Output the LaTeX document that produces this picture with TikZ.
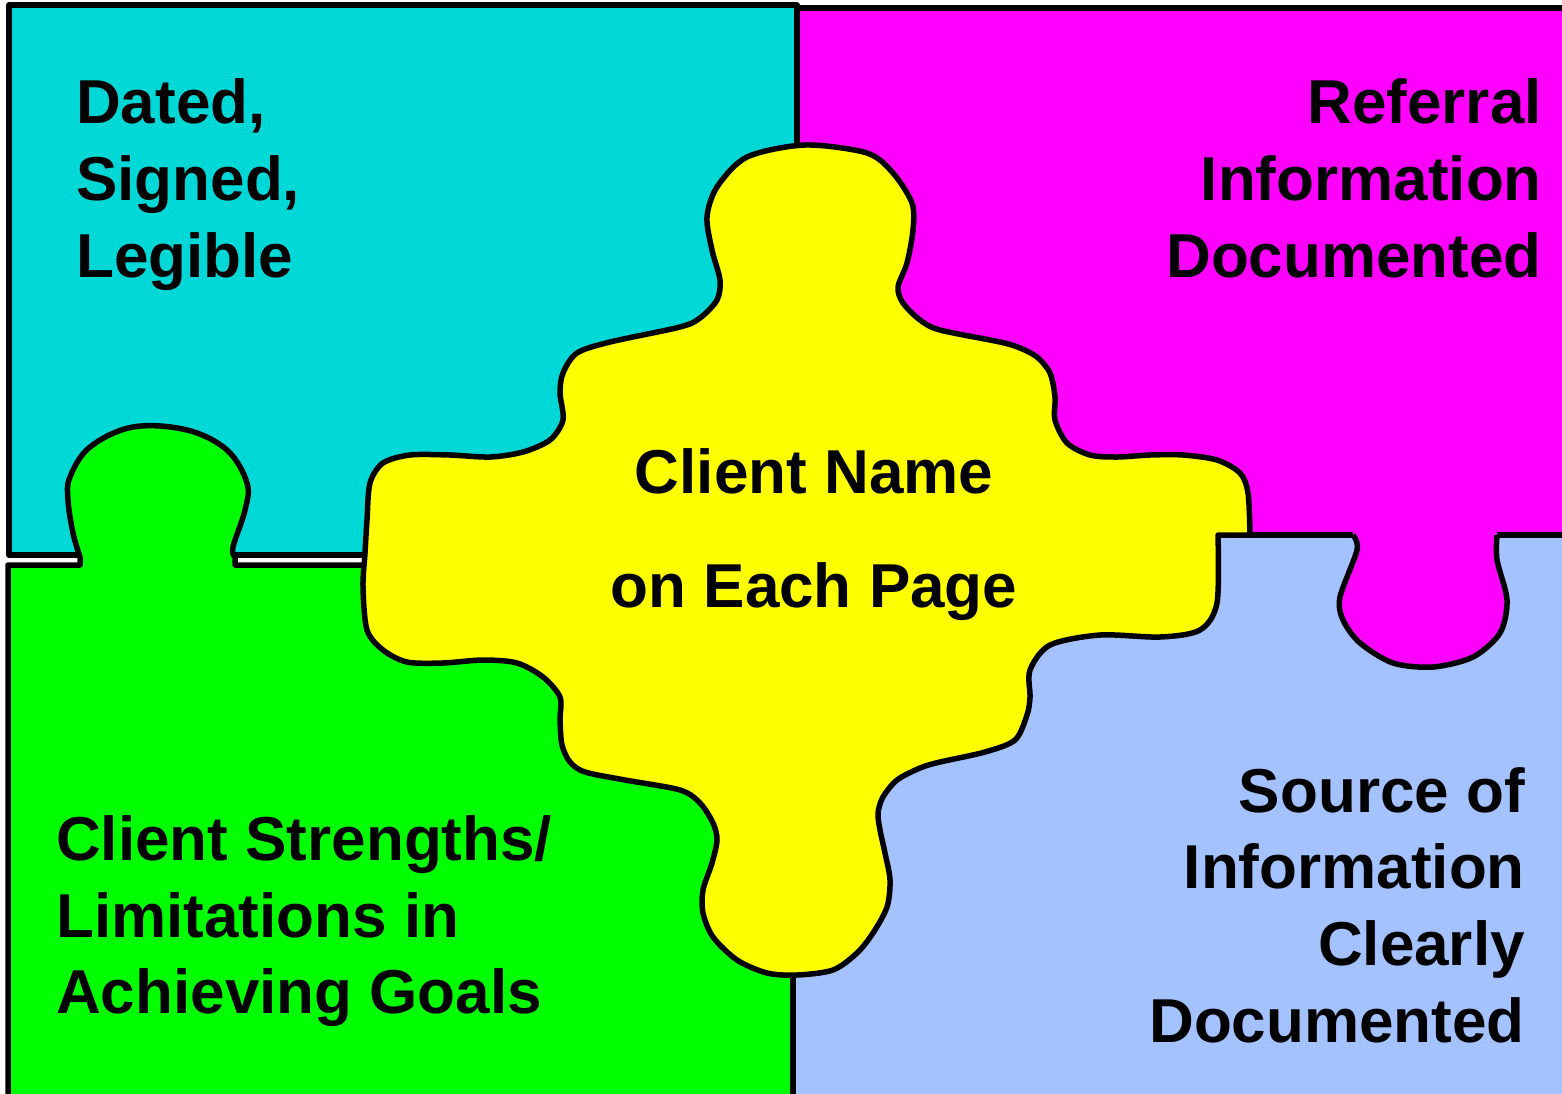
\documentclass[tikz,border=0pt]{standalone}
\usepackage{fontspec}
\setmainfont{Liberation Sans}
\definecolor{pcyan}{RGB}{0,216,216}
\definecolor{pmag}{RGB}{255,0,255}
\definecolor{pgreen}{RGB}{0,255,0}
\definecolor{pyellow}{RGB}{255,255,0}
\definecolor{pblue}{RGB}{163,194,255}
\begin{document}
\begin{tikzpicture}[x=1pt,y=-1pt,
  piece/.style={draw=black,line width=5.5pt,line join=round},
  lbl/.style={inner sep=0pt,font=\fontsize{62}{77}\selectfont\bfseries}]
\useasboundingbox (0,0) rectangle (1562,1093);
\clip (0,0) rectangle (1562,1093);
% top-left cyan
\path[piece,fill=pcyan] (9,5) rectangle (797,555);
% top-right magenta
\path[piece,fill=pmag] (797,8) rectangle (1590,535);
% bottom-left green with tab
\path[piece,fill=pgreen] (8,565) -- (80,565) -- plot[smooth,tension=0.6] coordinates {(80,557)(73,533)(68,500)(70,477)(90,447)(133,427)(187,430)(227,450)(247,483)(245,510)(233,547)(235,557)} -- (235,565) -- (793,565) -- (793,1110) -- (8,1110) -- cycle;
% bottom-right blue
\path[piece,fill=pblue] (793,535) rectangle (1590,1110);
% magenta tab into blue
\fill[pmag] (1353,524) -- plot[smooth] coordinates {(1353,535)(1357,550)(1340,597)(1343,620)(1360,643)(1393,663)(1433,667)(1473,657)(1500,633)(1507,600)(1497,560)(1497,535)} -- (1497,524) -- cycle;
\draw[piece] plot[smooth] coordinates {(1353,535)(1357,550)(1340,597)(1343,620)(1360,643)(1393,663)(1433,667)(1473,657)(1500,633)(1507,600)(1497,560)(1497,535)};
% central yellow piece
\path[piece,fill=pyellow] plot[smooth] coordinates {(1218,535)(1217,603)(1200,630)(1160,637)(1100,635)(1050,645)(1030,670)(1030,697)(1027,715)(1015,740)(985,752)(940,762)(920,768)(897,780)(883,797)(878,813)(880,830)(885,853)(890,880)(887,907)(873,933)(857,953)(833,970)(797,975)(767,973)(737,960)(713,937)(703,913)(703,890)(712,863)(717,840)(713,823)(700,803)(680,790)(625,780)(585,772)(570,762)(562,745)(560,720)(560,697)(543,677)(517,663)(483,660)(443,663)(407,662)(383,650)(367,630)(363,587)(365,553)(367,520)(370,483)(383,463)(410,455)(450,455)(490,457)(523,452)(550,440)(563,420)(560,393)(563,373)(577,353)(610,342)(680,327)(700,318)(717,300)(720,280)(712,250)(707,217)(717,187)(747,157)(805,145)(867,153)(893,173)(912,203)(913,230)(907,263)(898,287)(903,303)(920,320)(940,330)(1000,342)(1020,348)(1037,357)(1050,373)(1055,397)(1055,420)(1067,443)(1090,455)(1117,457)(1150,455)(1183,455)(1217,460)(1240,473)(1248,493)(1250,535)} -- cycle;
% labels
\node[lbl,anchor=base west] (tl1) at (76,123) {Dated,};
\node[lbl,anchor=base west] (tl2) at (76,200) {Signed,};
\node[lbl,anchor=base west] (tl3) at (76,277) {Legible};
\node[lbl,anchor=base east] (tr1) at (1542,123) {Referral};
\node[lbl,anchor=base east] (tr2) at (1542,200) {Information};
\node[lbl,anchor=base east] (tr3) at (1542,277) {Documented};
\node[lbl,anchor=base] (c1) at (814,493) {Client Name};
\node[lbl,anchor=base] (c2) at (814,607) {on Each Page};
\node[lbl,anchor=base west] (bl1) at (56,860) {Client Strengths/};
\node[lbl,anchor=base west] (bl2) at (56,937) {Limitations in};
\node[lbl,anchor=base west] (bl3) at (56,1013) {Achieving Goals};
\node[lbl,anchor=base east] (br1) at (1525,812) {Source of};
\node[lbl,anchor=base east] (br2) at (1525,888) {Information};
\node[lbl,anchor=base east] (br3) at (1525,965) {Clearly};
\node[lbl,anchor=base east] (br4) at (1525,1042) {Documented};
\end{tikzpicture}
\end{document}
